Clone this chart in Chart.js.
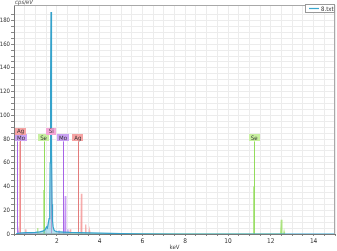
<!DOCTYPE html>
<html><head><meta charset="utf-8">
<script src="https://cdn.jsdelivr.net/npm/chart.js@4/dist/chart.umd.min.js"></script>
<style>html,body{margin:0;padding:0;background:#fff}canvas{display:block}</style>
</head><body>
<canvas id="c" width="337" height="251"></canvas>
<script>
// ---- data (keV, cps/eV) ----
const seriesName = '8.txt';
const specKeV = [0.10,0.15,0.25,0.40,0.60,0.80,1.00,1.20,1.35,1.45,1.52,1.56,1.60,1.64,1.67,1.69,1.71,1.73,1.745,1.76,1.78,1.80,1.83,1.87,1.92,2.00,2.30,2.60,3.00,3.50,4.00,4.50,5.00,6.00,8.00,15.0];
const specCps = [0,0.4,0.8,1.0,1.1,1.2,1.4,1.8,2.4,3.5,6,5,9,13,22,60,130,187,150,70,25,11,6,3.5,2.5,2.0,1.6,1.3,1.1,0.9,0.7,0.5,0.3,0.1,0,0];

const seKeV = [1.08,1.10,1.12, 1.36,1.38,1.40, 1.41,1.42,1.44, 11.17,11.20,11.23, 12.46,12.49,12.52, 12.60,12.62,12.64];
const seCps = [0,5,0, 0,37,0, 0,5,0, 0,40,0, 0,12,0, 0,2,0];
const moKeV = [0.17,0.19,0.21, 2.08,2.10,2.12, 2.37,2.395,2.42, 2.50,2.52,2.54];
const moCps = [0,3,0, 0,3,0, 0,32,0, 0,4,0];
const agKeV = [0.24,0.27,0.30, 0.53,0.55,0.57, 2.61,2.63,2.65, 3.13,3.15,3.17, 3.33,3.35,3.37, 3.50,3.52,3.54];
const agCps = [0,78,0, 0,4,0, 0,4,0, 0,34,0, 0,8,0, 0,3,0];

const markerEl  = ['Mo','Ag','Se','Si','Mo','Ag','Se'];
const markerKeV = [0.13,0.26,1.379,1.74,2.293,2.984,11.222];
const markerLevel = 81; // cps/eV where the label row sits

const xTickLabels = [2,4,6,8,10,12,14];
const yTickLabels = [0,20,40,60,80,100,120,140,160,180];

// ---- styles ----
const FONT = '"Liberation Sans Narrow", "DejaVu Sans Condensed", "Liberation Sans", sans-serif';
const elStyle = {
  Ag:{line:'#e27c7c', box:'#f6a3a3', fill:'rgba(244,150,150,0.75)'},
  Mo:{line:'#a763e6', box:'#c9a2f3', fill:'rgba(185,130,240,0.75)'},
  Se:{line:'#93dc5c', box:'#c8f0a0', fill:'rgba(160,225,110,0.8)'},
  Si:{line:'#ee8ac4', box:'#f5a6d7', fill:'rgba(240,150,200,0.7)'}
};
const pts = (xs, ys) => xs.map((x,i)=>({x:x, y:ys[i]}));

function peakDs(xs, ys, st, order){
  return {data:pts(xs,ys), borderColor:st.fill, backgroundColor:st.fill, borderWidth:1.2,
    fill:'origin', pointRadius:0, tension:0, order:order};
}

const markerPlugin = {
  id:'markers',
  beforeDatasetsDraw(chart){
    const ctx = chart.ctx, xs = chart.scales.x, ys = chart.scales.y;
    const lay = chart.$labelLayout = [];
    ctx.save();
    ctx.font = '6px ' + FONT;
    const placed = [];
    markerKeV.forEach((e,i)=>{
      const el = markerEl[i];
      const cx = xs.getPixelForValue(e);
      const w = Math.max(10, ctx.measureText(el).width + 4), h = 7;
      const left = Math.max(cx - w/2, chart.chartArea.left + 1);
      let row = 0;
      while (placed.some(p => p.row===row && !(left+w <= p.left || left >= p.left+p.w))) row++;
      placed.push({left, w, row});
      const cy = ys.getPixelForValue(markerLevel) - row*6.5;
      lay.push({el, cx, left, w, h, cy, row});
    });
    lay.forEach(L=>{
      ctx.strokeStyle = elStyle[L.el].line;
      ctx.lineWidth = 1;
      ctx.beginPath();
      const x = Math.round(L.cx)+0.5;
      ctx.moveTo(x, L.cy + L.h/2);
      ctx.lineTo(x, ys.getPixelForValue(0));
      ctx.stroke();
    });
    ctx.restore();
  },
  afterDatasetsDraw(chart){
    const ctx = chart.ctx;
    ctx.save();
    ctx.font = '6px ' + FONT;
    ctx.textAlign = 'center'; ctx.textBaseline = 'middle';
    (chart.$labelLayout||[]).forEach(L=>{
      ctx.fillStyle = elStyle[L.el].box;
      ctx.fillRect(Math.round(L.left), Math.round(L.cy - L.h/2), Math.round(L.w), L.h);
      ctx.fillStyle = '#333';
      ctx.fillText(L.el, L.left + L.w/2, L.cy + 0.5);
    });
    ctx.restore();
  },
  afterDraw(chart){
    const ctx = chart.ctx, a = chart.chartArea;
    ctx.save();
    ctx.strokeStyle = '#a8a8a8'; ctx.lineWidth = 1;
    ctx.beginPath();
    ctx.moveTo(a.left, a.top+0.5); ctx.lineTo(a.right-0.5, a.top+0.5); ctx.lineTo(a.right-0.5, a.bottom);
    ctx.stroke();
    ctx.font = 'italic 6px ' + FONT; ctx.fillStyle = '#444';
    ctx.textAlign = 'left'; ctx.textBaseline = 'middle';
    ctx.fillText('cps/eV', a.left + 1, 2.5);
    const bw = 30, bh = 9, bx = a.right - bw, by = 4;
    ctx.fillStyle = '#fff'; ctx.fillRect(bx, by, bw, bh);
    ctx.strokeStyle = '#999'; ctx.strokeRect(bx+0.5, by+0.5, bw-1, bh-1);
    ctx.strokeStyle = '#3aa6cc'; ctx.lineWidth = 1.2;
    ctx.beginPath(); ctx.moveTo(bx+4, by+4.5); ctx.lineTo(bx+14, by+4.5); ctx.stroke();
    ctx.fillStyle = '#333'; ctx.font = '6px ' + FONT;
    ctx.fillText(seriesName, bx+16, by+5);
    ctx.restore();
  }
};

new Chart(document.getElementById('c'), {
  type:'line',
  data:{datasets:[
    {label:seriesName, data:pts(specKeV, specCps), borderColor:'#35a2cb', backgroundColor:'rgba(95,185,220,0.45)',
     borderWidth:1.2, fill:'origin', pointRadius:0, tension:0, order:1},
    peakDs(seKeV, seCps, elStyle.Se, 2),
    peakDs(moKeV, moCps, elStyle.Mo, 3),
    peakDs(agKeV, agCps, elStyle.Ag, 4)
  ]},
  options:{
    responsive:false, devicePixelRatio:1, animation:false,
    layout:{padding:{top:5, right:2, left:0, bottom:0}},
    plugins:{legend:{display:false}, tooltip:{enabled:false}},
    scales:{
      x:{type:'linear', min:0, max:15,
        afterFit(s){ s.height = 17; },
        ticks:{stepSize:0.5, autoSkip:false, maxRotation:0, padding:1,
          font:{size:6.5, family:FONT}, color:'#333',
          callback:v => xTickLabels.includes(v) ? String(v) : ''},
        grid:{color:'#ececec', tickColor:'#888', tickLength:2},
        border:{color:'#777'},
        title:{display:true, text:'keV', font:{size:6, family:FONT}, color:'#444', padding:{top:0,bottom:0}}
      },
      y:{type:'linear', min:0, max:193,
        afterFit(s){ s.width = 14; },
        afterBuildTicks(s){ s.ticks = s.ticks.filter(t => t.value % 5 === 0); },
        ticks:{stepSize:5, autoSkip:false, padding:1,
          font:{size:6, family:FONT}, color:'#333',
          callback:v => yTickLabels.includes(v) ? String(v) : ''},
        grid:{color:'#ececec', tickColor:'#888', tickLength:3},
        border:{color:'#777'}
      }
    }
  },
  plugins:[markerPlugin]
});
</script>
</body></html>
